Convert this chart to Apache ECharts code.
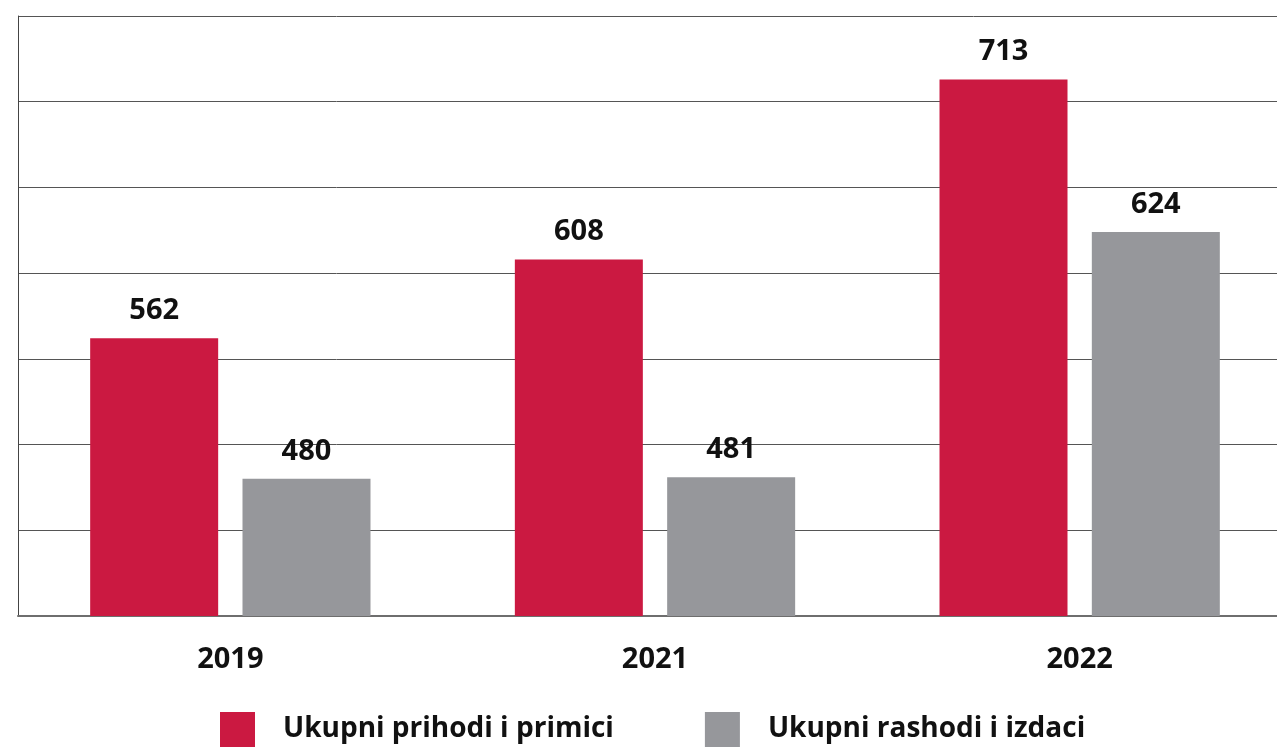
<!DOCTYPE html>
<html>
<head>
<meta charset="utf-8">
<script src="https://cdn.jsdelivr.net/npm/echarts@6/dist/echarts.min.js"></script>
<style>
  html, body { margin: 0; padding: 0; background: #fff; overflow: hidden; }
  /* plot runs past the right edge of the window, like the reference */
  #chart { width: 1292px; height: 750px; }
</style>
</head>
<body>
<div id="chart"></div>
<script>
const years = ['2019', '2021', '2022'];
const seriesNames = ['Ukupni prihodi i primici', 'Ukupni rashodi i izdaci'];
const prihodi = [562, 608, 713];
const rashodi = [480, 481, 624];

const chart = echarts.init(document.getElementById('chart'));

const labelStyle = {
  show: true,
  position: 'top',
  distance: 13,
  color: '#111',
  fontFamily: 'Open Sans',
  fontWeight: 'bold',
  fontSize: 29
};

chart.setOption({
  animation: false,
  textStyle: { fontFamily: 'Open Sans' },
  grid: {
    left: 18,
    right: 0,
    top: 16,
    bottom: 134
  },
  legend: {
    data: seriesNames,
    left: 220,
    top: 712,
    padding: 0,
    itemWidth: 35,
    itemHeight: 35,
    itemGap: 91,
    icon: 'rect',
    textStyle: {
      color: '#111',
      fontFamily: 'Open Sans',
      fontWeight: 'bold',
      fontSize: 28,
      padding: [0, 0, 0, 23]
    }
  },
  xAxis: {
    type: 'category',
    data: years,
    axisTick: { show: false },
    axisLine: { lineStyle: { color: '#6e6e6e', width: 2 } },
    axisLabel: {
      margin: 29,
      color: '#111',
      fontFamily: 'Open Sans',
      fontWeight: 'bold',
      fontSize: 29
    }
  },
  yAxis: {
    type: 'value',
    min: 400,
    max: 750,
    interval: 50,
    axisLabel: { show: false },
    axisTick: { show: false },
    axisLine: { show: true, lineStyle: { color: '#444', width: 1 } },
    splitLine: { lineStyle: { color: '#555', width: 1 } }
  },
  series: [
    {
      name: seriesNames[0],
      type: 'bar',
      data: prihodi,
      barWidth: 128,
      barGap: '19%',
      itemStyle: { color: '#CB1941' },
      label: labelStyle
    },
    {
      name: seriesNames[1],
      type: 'bar',
      data: rashodi,
      barWidth: 128,
      barGap: '19%',
      itemStyle: { color: '#96979B' },
      label: labelStyle
    }
  ]
});
</script>
</body>
</html>
